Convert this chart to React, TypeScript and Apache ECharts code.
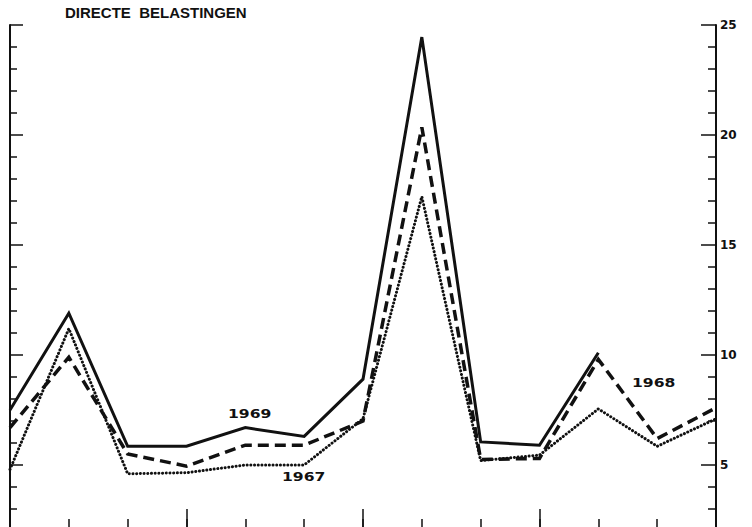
import React, { useEffect, useRef } from "react";
import * as echarts from "echarts";

const months = ["jan", "feb", "mrt", "apr", "mei", "jun", "jul", "aug", "sep", "okt", "nov", "dec", "jan "];
const values1969 = [7.5, 11.9, 5.85, 5.85, 6.7, 6.3, 8.9, 24.45, 6.05, 5.9, 10.1, null, null];
const values1968 = [6.7, 9.9, 5.5, 4.95, 5.9, 5.9, 7.0, 20.35, 5.25, 5.3, 9.8, 6.2, 7.6];
const values1967 = [4.8, 11.2, 4.6, 4.65, 5.0, 5.0, 7.1, 17.2, 5.2, 5.45, 7.55, 5.85, 7.1];
const yTicks = [0, 5, 10, 15, 20, 25];
const titleText = "DIRECTE  BELASTINGEN";
const yearLabels = ["1969", "1967", "1968"];

export default function App() {
  const ref = useRef<HTMLDivElement>(null);
  useEffect(() => {
    if (!ref.current) return;
    const chart = echarts.init(ref.current, null, { renderer: "svg" });
    const black = "#111";
    const digitFont = "DejaVu Sans";
    const yAxisBase = {
      type: "value",
      gridIndex: 0,
      min: yTicks[0],
      max: yTicks[yTicks.length - 1],
      interval: 5,
      splitLine: { show: false },
      axisLine: { show: true, lineStyle: { color: black, width: 2 } },
    };
    const yearText = (text: string, x: number, y: number) => ({
      type: "text",
      x,
      y,
      scaleX: 1.3,
      style: { text, fontFamily: digitFont, fontWeight: "bold", fontSize: 12, fill: black, verticalAlign: "middle" },
    });
    chart.setOption({
      animation: false,
      backgroundColor: "#fff",
      title: {
        text: titleText,
        left: 60,
        top: 0,
        textStyle: { fontFamily: "Liberation Sans", fontWeight: "bold", fontSize: 15, color: black },
      },
      grid: [
        { left: 10, right: 36, top: 25, height: 550 },
        { left: 10, right: 36, top: 25, height: 506 },
      ],
      xAxis: [
        {
          type: "category",
          gridIndex: 0,
          position: "top",
          data: months,
          boundaryGap: false,
          axisLine: { show: true, lineStyle: { color: black, width: 1.5 } },
          axisTick: { show: false },
          axisLabel: { show: false },
        },
        {
          type: "category",
          gridIndex: 1,
          position: "bottom",
          data: months,
          boundaryGap: false,
          axisLine: { show: true, lineStyle: { color: black, width: 1.5 } },
          axisTick: { show: true, inside: true, length: 12, interval: 0, lineStyle: { color: black, width: 1.5 } },
          axisLabel: { show: false },
        },
        {
          type: "category",
          gridIndex: 1,
          position: "bottom",
          data: months,
          boundaryGap: false,
          axisLine: { show: false },
          axisTick: { show: true, inside: true, length: 22, interval: 2, lineStyle: { color: black, width: 1.5 } },
          axisLabel: { show: false },
        },
      ],
      yAxis: [
        {
          ...yAxisBase,
          position: "right",
          axisTick: { show: true, inside: true, length: 15, lineStyle: { color: black, width: 1.5 } },
          minorTick: { show: true, splitNumber: 5, length: 8, lineStyle: { color: black, width: 1.5 } },
          axisLabel: {
            show: true,
            margin: 4,
            fontFamily: digitFont,
            fontWeight: "bold",
            fontSize: 12,
            color: black,
            formatter: (v: number) => (v === 0 ? "" : String(v)),
          },
        },
        {
          ...yAxisBase,
          position: "left",
          axisTick: { show: true, inside: true, length: 13, lineStyle: { color: black, width: 1.5 } },
          minorTick: { show: true, splitNumber: 5, length: 7, lineStyle: { color: black, width: 1.5 } },
          axisLabel: { show: false },
        },
        {
          type: "value",
          gridIndex: 1,
          min: 0,
          max: 1,
          show: false,
        },
      ],
      series: [
        {
          name: "1967",
          type: "line",
          xAxisIndex: 0,
          yAxisIndex: 0,
          data: values1967,
          symbol: "none",
          lineStyle: { color: black, width: 3, type: [0.1, 3.6], cap: "round", join: "round" },
          z: 3,
        },
        {
          name: "1968",
          type: "line",
          xAxisIndex: 0,
          yAxisIndex: 0,
          data: values1968,
          symbol: "none",
          lineStyle: { color: black, width: 3.5, type: [11, 6], join: "miter" },
          z: 4,
        },
        {
          name: "1969",
          type: "line",
          xAxisIndex: 0,
          yAxisIndex: 0,
          data: values1969,
          symbol: "none",
          connectNulls: false,
          lineStyle: { color: black, width: 3, type: "solid", join: "miter" },
          z: 5,
        },
      ],
      graphic: [
        yearText(yearLabels[0], 228, 414),
        yearText(yearLabels[1], 282, 477),
        yearText(yearLabels[2], 632, 383),
      ],
    });
    return () => chart.dispose();
  }, []);
  return (
    <div style={{ position: "absolute", left: 0, top: 0, width: 752, height: 527, overflow: "hidden", background: "#fff" }}>
      <div ref={ref} style={{ width: 752, height: 580 }} />
    </div>
  );
}
